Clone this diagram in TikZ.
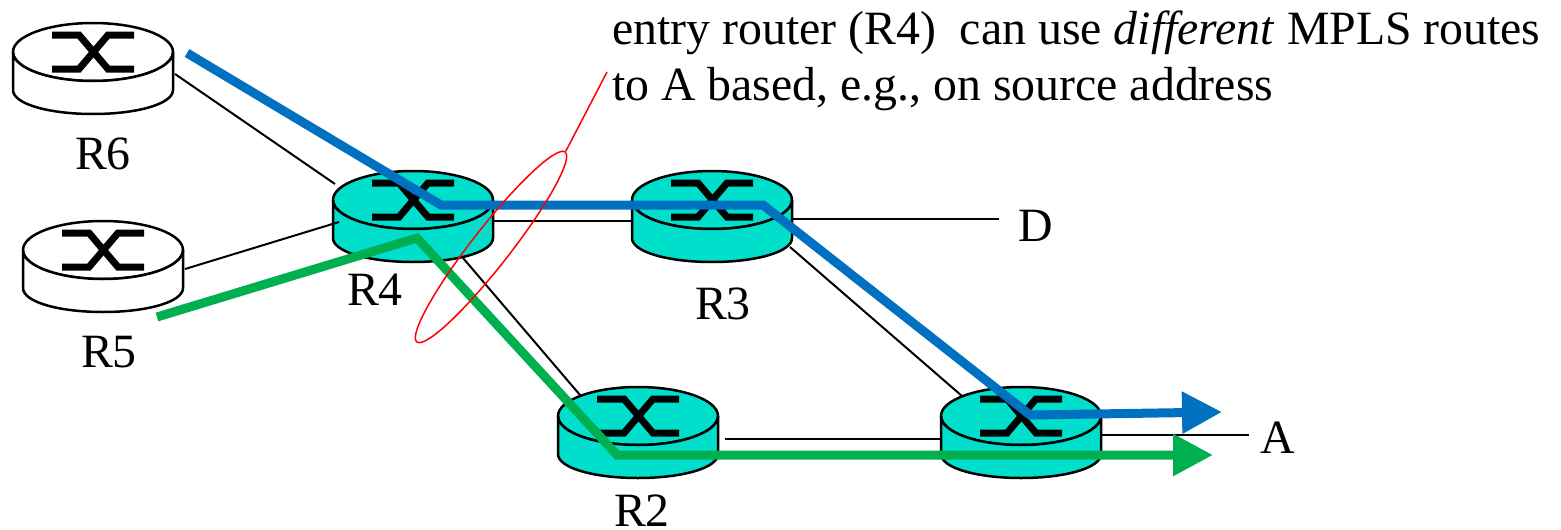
\documentclass[tikz,border=0pt]{standalone}
\usepackage{fontspec}
\usepackage{xcolor}
\setmainfont{Liberation Serif}
\usetikzlibrary{calc}
\usetikzlibrary{positioning}
\usetikzlibrary{arrows.meta}
\usetikzlibrary{shapes.geometric}
\definecolor{routerteal}{HTML}{00DFCC}
\definecolor{pathblue}{HTML}{0070C0}
\definecolor{pathgreen}{HTML}{00B050}
\tikzset{
  routertop/.style={ellipse, draw=black, line width=2.5pt, minimum width=160pt, minimum height=58pt, inner sep=0pt},
  routerlabel/.style={inner sep=0pt, font=\fontsize{47.8}{56}\selectfont},
  link/.style={draw=black, line width=2pt},
  bluepath/.style={draw=pathblue, line width=9pt, -{Triangle[length=40pt,width=40pt]}},
  greenpath/.style={draw=pathgreen, line width=9pt, -{Triangle[length=40pt,width=40pt]}},
}
\newcommand{\router}[3]{
  \node[routertop, fill=#3, #2] (#1) {};
  \begin{scope}[shift={(#1.center)}]
    \draw[line width=2.5pt, fill=#3] (-80,0) -- (-80,38) .. controls (-80,52) and (-44,62) .. (0,62)
      .. controls (44,62) and (80,52) .. (80,38) -- (80,0)
      .. controls (80,16) and (44,29) .. (0,29) .. controls (-44,29) and (-80,16) .. (-80,0) -- cycle;
    \draw[line width=7pt] (-41,-17) -- (-14,-17) -- (15,17) -- (41,17);
    \draw[line width=7pt] (-41,17) -- (-14,17) -- (15,-17) -- (41,-17);
  \end{scope}
}
\begin{document}
\begin{tikzpicture}[x=1pt, y=-1pt, on grid]
    \useasboundingbox (0,0) rectangle (1561,530);

    % Define nodes
    \router{r6}{at={(93,52)}}{white}
    \router{r5}{below right=198pt and 10pt of r6}{white}
    \router{r4}{below right=148pt and 320pt of r6}{routerteal}
    \router{r3}{right=299pt of r4}{routerteal}
    \router{r2}{below right=216pt and 225pt of r4}{routerteal}
    \router{r1}{right=383pt of r2}{routerteal}

    \node[routerlabel, below right=102pt and 10pt of r6] (r6label) {R6};
    \node[routerlabel, below right=102pt and 6pt of r5] (r5label) {R5};
    \node[routerlabel, below left=90pt and 38pt of r4] (r4label) {R4};
    \node[routerlabel, below right=104pt and 11pt of r3] (r3label) {R3};
    \node[routerlabel, below right=95pt and 4pt of r2] (r2label) {R2};
    \node[routerlabel, right=324pt of r3, yshift=-26pt] (d) {D};
    \node[routerlabel, right=257pt of r1, yshift=-22pt] (a) {A};

    \node[routerlabel, align=left, anchor=north west] (note) at (612,11)
      {entry router (R4)\ \ can use \textit{different} MPLS routes\\to A based, e.g., on source address};

    \coordinate (bluestart) at (187,53);
    \coordinate (blueend) at (1222,412);
    \coordinate (greenstart) at (157,317);
    \coordinate (greenend) at (1213,455);
    \coordinate (leaderend) at (607,72);

    % Connect the nodes
    \draw[link] ($(r6)+(82,22)$) -- ($(r4)+(-78,-16)$);
    \draw[link] ($(r5)+(82,19)$) -- ($(r4)+(-74,22)$);
    \draw[link] ($(r4)+(80,21)$) -- ($(r3)+(-80,21)$);
    \draw[link] ($(r4)+(50,58)$) -- ($(r2)+(-58,-21)$);
    \draw[link] ($(r3)+(78,47)$) -- ($(r1)+(-59,-20)$);
    \draw[link] ($(r3)+(80,19)$) -- ($(d.west)+(-20,-7)$);
    \draw[link] ($(r2)+(87,23)$) -- ($(r1)+(-80,23)$);
    \draw[link] ($(r1)+(80,19)$) -- ($(a.west)+(-12,-3)$);

    \draw[bluepath] (bluestart) -- ($(r4)+(28,5)$) -- ($(r3)+(51,5)$) -- ($(r1)+(9,-1)$) -- (blueend);
    \draw[greenpath] (greenstart) -- ($(r4)+(4,38)$) -- ($(r2)+(-21,39)$) -- (greenend);

    % Note ring
    \node[ellipse, draw=red, line width=1.5pt, rotate=52, minimum width=241pt, minimum height=38pt, inner sep=0pt] (ring) at (491,247) {};
    \draw[red, line width=1.5pt] (ring.east) -- (leaderend);

\end{tikzpicture}
\end{document}
